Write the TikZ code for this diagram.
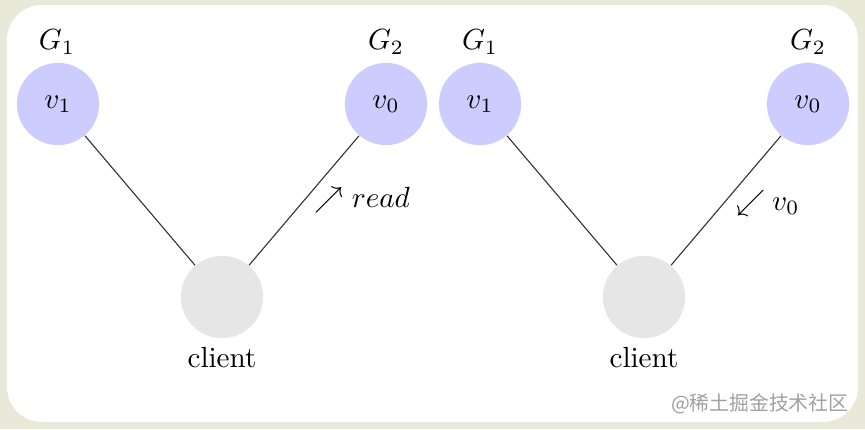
\documentclass[tikz,border=0pt]{standalone}
\usepackage{fontspec}
\newfontfamily\cjk{Noto Sans CJK SC}
\definecolor{outerbg}{HTML}{E8E9D8}
\definecolor{vblue}{HTML}{CCCCFF}
\definecolor{cgray}{HTML}{E6E6E6}
\definecolor{wmark}{HTML}{A0A0A0}
\begin{document}
\begin{tikzpicture}[x=0.01205cm,y=-0.01205cm,
  vnode/.style={circle,fill=vblue,minimum size=28.2pt,inner sep=0pt},
  cnode/.style={circle,fill=cgray,minimum size=28.2pt,inner sep=0pt},
  link/.style={draw=black!80,line width=0.38pt},
  lbl/.style={inner sep=0pt}]
\useasboundingbox (0,0) rectangle (865,429);
\fill[outerbg] (0,0) rectangle (865,429);
\fill[white,rounded corners=12] (7,5) rectangle (858,422);
% left panel
\node[vnode] (l1) at (58,104) {$v_1$};
\node[vnode] (l0) at (386,104) {$v_0$};
\node[cnode] (lc) at (222,297) {};
\node[lbl] (lg1) at (57,42) {$G_1$};
\node[lbl] (lg2) at (386,42) {$G_2$};
\node[lbl] (lcl) at (222,358) {client};
\draw[link] (l1) -- (lc);
\draw[link] (l0) -- (lc);
\node[lbl,anchor=base west] (lread) at (314,207) {$\nearrow read$};
% right panel
\node[vnode] (r1) at (480,104) {$v_1$};
\node[vnode] (r0) at (808,104) {$v_0$};
\node[cnode] (rc) at (644,297) {};
\node[lbl] (rg1) at (480,42) {$G_1$};
\node[lbl] (rg2) at (808,42) {$G_2$};
\node[lbl] (rcl) at (644,358) {client};
\draw[link] (r1) -- (rc);
\draw[link] (r0) -- (rc);
\node[lbl,anchor=base west] (rv) at (736,210) {$\swarrow\mskip-1mu v_0$};
% watermark
\node[lbl,anchor=east,text=wmark,font=\cjk\fontsize{6.8pt}{8pt}\selectfont] (wm) at (849,404) {@稀土掘金技术社区};
\end{tikzpicture}
\end{document}
